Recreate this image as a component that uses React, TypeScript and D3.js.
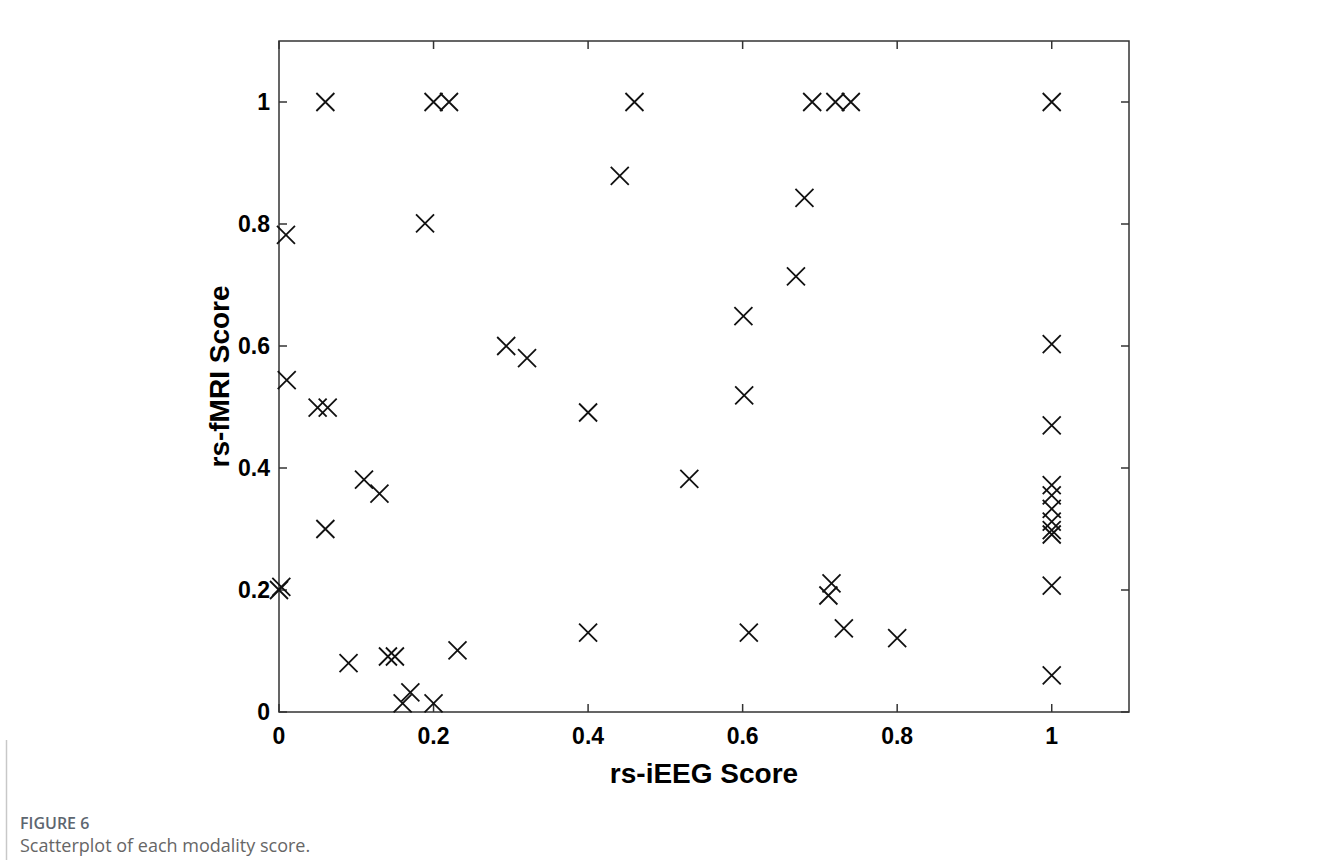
import React, { useEffect, useRef } from 'react';
import * as d3 from 'd3';

// rs-iEEG score (x) and rs-fMRI score (y)
const iEEG = [
  0.06, 0.2, 0.22, 0.189, 0.009, 0.01, 0.05, 0.063, 0.11, 0.13, 0.06, 0.0, 0.003,
  0.09, 0.141, 0.15, 0.231, 0.17, 0.16, 0.2, 0.294, 0.321,
  0.46, 0.69, 0.72, 0.74, 0.441, 0.68, 0.669, 0.601, 0.602, 0.4, 0.531, 0.715,
  0.711, 0.731, 0.4, 0.608,
  1, 1, 1, 1, 1, 1, 1, 1, 1, 1, 1, 0.8,
];
const fMRI = [
  1, 1, 1, 0.801, 0.782, 0.544, 0.499, 0.499, 0.381, 0.358, 0.3, 0.2, 0.205,
  0.08, 0.091, 0.091, 0.101, 0.032, 0.014, 0.014, 0.6, 0.58,
  1, 1, 1, 1, 0.879, 0.843, 0.714, 0.649, 0.519, 0.491, 0.382, 0.211,
  0.191, 0.137, 0.13, 0.13,
  1, 0.603, 0.47, 0.372, 0.355, 0.333, 0.312, 0.298, 0.291, 0.207, 0.06, 0.121,
];
const xTicks = [0, 0.2, 0.4, 0.6, 0.8, 1];
const yTicks = [0, 0.2, 0.4, 0.6, 0.8, 1];

export default function App() {
  const ref = useRef<SVGSVGElement>(null);

  useEffect(() => {
    const svg = d3.select(ref.current);
    svg.selectAll('*').remove();

    const left = 279, right = 1129, top = 41, bottom = 712;
    const x = d3.scaleLinear().domain([0, 1.1]).range([left, right]);
    const y = d3.scaleLinear().domain([0, 1.1]).range([bottom, top]);
    const tickLen = 8;
    const font = '"Liberation Sans", Arial, Helvetica, sans-serif';

    // frame
    svg.append('rect')
      .attr('x', left).attr('y', top)
      .attr('width', right - left).attr('height', bottom - top)
      .attr('fill', 'none').attr('stroke', '#333').attr('stroke-width', 1.5);

    // inward ticks on all four sides
    const tg = svg.append('g').attr('stroke', '#333').attr('stroke-width', 1.5);
    xTicks.forEach((t) => {
      tg.append('line').attr('x1', x(t)).attr('x2', x(t)).attr('y1', bottom).attr('y2', bottom - tickLen);
      tg.append('line').attr('x1', x(t)).attr('x2', x(t)).attr('y1', top).attr('y2', top + tickLen);
    });
    yTicks.forEach((t) => {
      tg.append('line').attr('x1', left).attr('x2', left + tickLen).attr('y1', y(t)).attr('y2', y(t));
      tg.append('line').attr('x1', right).attr('x2', right - tickLen).attr('y1', y(t)).attr('y2', y(t));
    });

    // tick labels
    svg.append('g').selectAll('text').data(xTicks).join('text')
      .attr('x', (d) => x(d)).attr('y', bottom + 32)
      .attr('text-anchor', 'middle')
      .style('font-family', font).style('font-weight', 'bold').style('font-size', '23px')
      .text((d) => d3.format('~g')(d));

    svg.append('g').selectAll('text').data(yTicks).join('text')
      .attr('x', left - 9).attr('y', (d) => y(d) + 8)
      .attr('text-anchor', 'end')
      .style('font-family', font).style('font-weight', 'bold').style('font-size', '23px')
      .text((d) => d3.format('~g')(d));

    // axis titles
    svg.append('text')
      .attr('x', (left + right) / 2).attr('y', 783)
      .attr('text-anchor', 'middle')
      .style('font-family', font).style('font-weight', 'bold').style('font-size', '28px')
      .text('rs-iEEG Score');

    svg.append('text')
      .attr('transform', `translate(229,${(top + bottom) / 2}) rotate(-90)`)
      .attr('text-anchor', 'middle')
      .style('font-family', font).style('font-weight', 'bold').style('font-size', '28px')
      .text('rs-fMRI Score');

    // X markers
    const data = iEEG.map((v, i) => ({ x: v, y: fMRI[i] }));
    const s = 9;
    svg.append('g').selectAll('path').data(data).join('path')
      .attr('transform', (d) => `translate(${x(d.x)},${y(d.y)})`)
      .attr('d', `M${-s},${-s}L${s},${s}M${-s},${s}L${s},${-s}`)
      .attr('fill', 'none').attr('stroke', '#111').attr('stroke-width', 1.8);

    // caption
    svg.append('line')
      .attr('x1', 6.5).attr('x2', 6.5).attr('y1', 740).attr('y2', 860)
      .attr('stroke', '#c8c8c8').attr('stroke-width', 1.5);
    svg.append('text')
      .attr('x', 20).attr('y', 829)
      .style('font-family', '"Open Sans", sans-serif').style('font-weight', 600).style('font-size', '16px')
      .attr('fill', '#5d6670')
      .text('FIGURE 6');
    svg.append('text')
      .attr('x', 20).attr('y', 852)
      .style('font-family', '"Open Sans", sans-serif').style('font-size', '18px')
      .attr('fill', '#666')
      .text('Scatterplot of each modality score.');
  }, []);

  return (
    <svg
      ref={ref}
      width={1330}
      height={863}
      style={{ position: 'absolute', left: 0, top: 0, background: '#fff' }}
    />
  );
}
